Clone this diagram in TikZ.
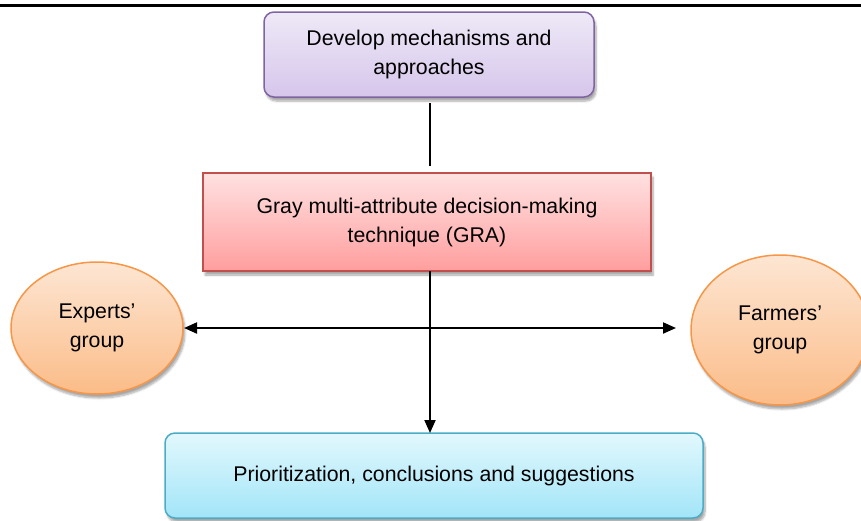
\documentclass[tikz,border=0pt]{standalone}
\usepackage{fontspec}
\setmainfont{Liberation Sans}
\usetikzlibrary{shapes.geometric,arrows.meta,shadows.blur}
\definecolor{pborder}{HTML}{8064A2}
\definecolor{ptop}{HTML}{EEE9F7}
\definecolor{pbot}{HTML}{D6C6EB}
\definecolor{rborder}{HTML}{C0504D}
\definecolor{rtop}{HTML}{FFE1E1}
\definecolor{rbot}{HTML}{FF9E9E}
\definecolor{oborder}{HTML}{F79646}
\definecolor{otop}{HTML}{FDE6D3}
\definecolor{obot}{HTML}{FBBC88}
\definecolor{bborder}{HTML}{4BACC6}
\definecolor{btop}{HTML}{E2F8FD}
\definecolor{bbot}{HTML}{A2E5F8}
\tikzset{
  boxbase/.style={draw, line width=1.5pt, align=center, inner sep=0pt,
    font=\fontsize{21.3}{29}\selectfont,
    blur shadow={shadow xshift=2pt, shadow yshift=-4pt, shadow blur steps=6, shadow opacity=35}},
  purplebox/.style={boxbase, draw=pborder, top color=ptop, bottom color=pbot, rounded corners=10pt},
  redbox/.style={boxbase, draw=rborder, top color=rtop, bottom color=rbot},
  bluebox/.style={boxbase, draw=bborder, top color=btop, bottom color=bbot, rounded corners=10pt},
  orangeell/.style={boxbase, ellipse, draw=oborder, top color=otop, bottom color=obot},
  conn/.style={line width=2pt, black},
  tip/.style={-{Triangle[length=13pt,width=11pt]}}
}
\begin{document}
\begin{tikzpicture}[x=1pt,y=-1pt]
\useasboundingbox (0,0) rectangle (861,520);
\draw[line width=3pt] (0,5) -- (861,5);
\node[purplebox, minimum width=330pt, minimum height=85pt] (top) at (429,54.5) {Develop mechanisms and\\approaches};
\node[redbox, minimum width=448pt, minimum height=98pt] (gra) at (427,222) {Gray multi-attribute decision-making\\technique (GRA)};
\node[orangeell, minimum width=172pt, minimum height=132pt] (experts) at (97,328) {Experts'\\group};
\node[orangeell, minimum width=178pt, minimum height=150pt] (farmers) at (780,330) {Farmers'\\group};
\node[bluebox, minimum width=538pt, minimum height=85pt] (result) at (434,475.5) {Prioritization, conclusions and suggestions};
\coordinate (tbot) at (430,97);
\coordinate (gtop) at (430,173);
\draw[conn, shorten <=6pt, shorten >=7pt] (tbot) -- (gtop);
\coordinate (gbot) at (430,271);
\coordinate (rtopc) at (430,433);
\draw[conn, tip] (gbot) -- (rtopc);
\coordinate (hl) at (184,328);
\coordinate (hr) at (676,328);
\draw[conn, {Triangle[length=13pt,width=11pt]}-{Triangle[length=13pt,width=11pt]}] (hl) -- (hr);
\end{tikzpicture}
\end{document}
